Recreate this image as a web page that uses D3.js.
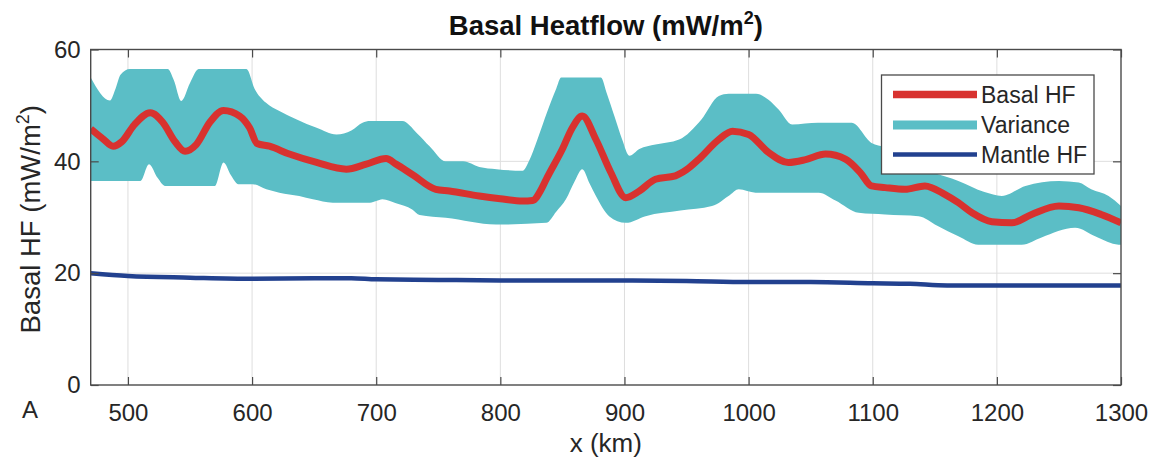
<!DOCTYPE html>
<html>
<head>
<meta charset="utf-8">
<script src="https://cdn.jsdelivr.net/npm/d3@7"></script>
<style>
  html, body { margin: 0; padding: 0; background: #fff; }
  svg { display: block; font-family: "Liberation Sans", Arial, Helvetica, sans-serif; }
</style>
</head>
<body>
<svg id="chart" width="1159" height="464"></svg>
<script>
// ---------------- data ----------------
const xTicks = [500, 600, 700, 800, 900, 1000, 1100, 1200, 1300];
const yTicks = [0, 20, 40, 60];

// Basal HF (red): [x km, mW/m2]
const basalHF = [
  [470,45.8],[480,44.0],[488,42.7],[495,43.5],[505,46.5],[518,48.7],[528,47.0],[538,43.5],
  [546,41.8],[555,43.0],[566,47.0],[577,49.1],[590,48.1],[598,46.0],[604,43.2],[614,42.7],
  [630,41.3],[652,39.8],[676,38.6],[692,39.5],[708,40.5],[716,39.5],[730,37.5],[748,35.0],
  [759,34.7],[783,33.8],[800,33.3],[818,32.9],[826,33.0],[833,35.0],[837,36.8],[850,42.2],
  [858,46.0],[866,48.1],[877,43.9],[889,38.0],[901,33.5],[912,34.7],[925,36.8],[941,37.4],
  [950,38.5],[960,40.4],[976,43.9],[987,45.4],[1000,44.8],[1016,41.6],[1032,39.8],[1046,40.3],
  [1062,41.3],[1078,40.4],[1090,38.0],[1099,35.6],[1110,35.3],[1126,35.0],[1142,35.6],[1158,34.1],
  [1169,32.6],[1180,30.8],[1196,29.2],[1212,29.0],[1228,30.5],[1250,32.0],[1266,31.7],[1284,30.5],
  [1300,29.0]
];

// Variance band upper edge (cyan)
const varianceUpper = [
  [470,55.0],[485.5,50.9],[490,53.0],[494,55.5],[501.6,56.5],[532,56.5],[537,54.5],[543,50.8],
  [550,54.0],[557,56.5],[595.5,56.5],[602,53.0],[611,50.5],[622,49.0],[636,47.5],[652,46.0],
  [668,44.8],[680,45.5],[689,46.9],[695,47.2],[721,47.2],[733,45.0],[743,42.7],[756,40.0],
  [770,40.0],[783,39.0],[797,38.6],[818,38.3],[823,40.0],[830,44.0],[838,49.0],[845,53.0],
  [849,55.0],[881,55.0],[886,52.0],[892,48.0],[898,44.0],[904,41.0],[912,42.2],[925,43.0],
  [944,43.9],[962,47.5],[976,51.7],[984,52.1],[1006,52.1],[1016,51.0],[1024,49.3],[1035,46.6],
  [1056,46.9],[1083,46.9],[1099,43.3],[1110,42.5],[1129,39.5],[1148,38.0],[1169,36.5],[1190,34.5],
  [1204,33.8],[1223,35.6],[1250,36.5],[1266,36.2],[1276,35.0],[1290,33.8],[1300,32.0]
];

// Variance band lower edge (cyan)
const varianceLower = [
  [470,36.5],[510,36.5],[517,39.5],[524,37.0],[530,35.6],[570,35.6],[577,39.8],[583,37.5],
  [589,35.9],[600.5,35.9],[611.5,35.0],[622,34.4],[638,33.8],[649,33.2],[665,32.6],[695,32.6],
  [700,32.9],[705,33.2],[716,32.5],[729,31.4],[735,30.4],[756,29.9],[796.5,28.7],[837,29.0],
  [845,31.0],[852.8,33.2],[860,36.5],[866,38.6],[872,36.0],[877,33.8],[887.6,30.2],[901,29.0],
  [917,30.2],[945,31.2],[970.5,32.0],[985,34.0],[992,35.0],[1005.6,34.4],[1056.5,34.4],[1070,33.0],
  [1088.7,30.8],[1110,30.5],[1137,30.2],[1152,28.5],[1169,26.6],[1185,25.1],[1220,25.1],[1236,26.4],
  [1263,28.1],[1280,26.5],[1298,25.1],[1300,25.1]
];

// Mantle HF (blue)
const mantleHF = [
  [470,20.0],[500,19.5],[550,19.2],[600,19.0],[650,19.1],[680,19.1],[700,18.9],[750,18.8],
  [800,18.7],[900,18.7],[950,18.6],[1000,18.4],[1050,18.4],[1100,18.2],[1130,18.1],[1160,17.8],
  [1200,17.8],[1300,17.8]
];

const legendLabels = ["Basal HF", "Variance", "Mantle HF"];
const colors = { basal: "#d8322f", variance: "#5bbec6", mantle: "#22418f" };

// ---------------- layout ----------------
const L = 90.7, R = 1121, T = 49.5, B = 385;
const svg = d3.select("#chart");
const x = d3.scaleLinear().domain([470, 1300]).range([L, R]);
const y = d3.scaleLinear().domain([0, 60]).range([B, T]);
const textColor = "#262626";
const axisColor = "#4a4a4a";
const tickFont = 24;

svg.append("defs").append("clipPath").attr("id", "plotclip")
  .append("rect").attr("x", L).attr("y", T).attr("width", R - L).attr("height", B - T);

// grid
const grid = svg.append("g");
grid.selectAll(".gx").data(xTicks.filter(d => d < 1300)).join("line")
  .attr("x1", d => x(d)).attr("x2", d => x(d)).attr("y1", T).attr("y2", B)
  .attr("stroke", "#dedede").attr("stroke-width", 1);
grid.selectAll(".gy").data(yTicks.filter(d => d > 0 && d < 60)).join("line")
  .attr("x1", L).attr("x2", R).attr("y1", d => y(d)).attr("y2", d => y(d))
  .attr("stroke", "#dedede").attr("stroke-width", 1);

// series
const smooth = d3.line().x(d => x(d[0])).y(d => y(d[1])).curve(d3.curveMonotoneX);
const plot = svg.append("g").attr("clip-path", "url(#plotclip)");

const upperPath = smooth(varianceUpper);
const lowerPath = smooth(varianceLower.slice().reverse());
plot.append("path").attr("d", upperPath + "L" + lowerPath.slice(1) + "Z")
  .attr("fill", colors.variance).attr("stroke", "none");

plot.append("path").datum(mantleHF).attr("d", smooth)
  .attr("fill", "none").attr("stroke", colors.mantle).attr("stroke-width", 4.5)
  .attr("stroke-linejoin", "round");

plot.append("path").datum(basalHF).attr("d", smooth)
  .attr("fill", "none").attr("stroke", colors.basal).attr("stroke-width", 7)
  .attr("stroke-linejoin", "round").attr("stroke-linecap", "butt");

// axes (ticks inside, MATLAB style)
function styleAxis(g) {
  g.select(".domain").remove();
  g.selectAll(".tick line").attr("stroke", axisColor).attr("stroke-width", 1.2);
  g.selectAll(".tick text").attr("fill", textColor).attr("font-size", tickFont)
    .attr("font-family", "Liberation Sans, Arial, sans-serif");
}
svg.append("g").attr("transform", `translate(0,${B})`)
  .call(d3.axisBottom(x).tickValues(xTicks).tickSize(-8).tickPadding(19).tickFormat(d3.format("d")))
  .call(styleAxis);
svg.append("g").attr("transform", `translate(0,${T})`)
  .call(d3.axisTop(x).tickValues(xTicks).tickSize(-8).tickFormat(""))
  .call(styleAxis);
svg.append("g").attr("transform", `translate(${L},0)`)
  .call(d3.axisLeft(y).tickValues(yTicks).tickSize(-8).tickPadding(10).tickFormat(d3.format("d")))
  .call(styleAxis);
svg.append("g").attr("transform", `translate(${R},0)`)
  .call(d3.axisRight(y).tickValues(yTicks).tickSize(-8).tickFormat(""))
  .call(styleAxis);

// box
svg.append("rect").attr("x", L).attr("y", T).attr("width", R - L).attr("height", B - T)
  .attr("fill", "none").attr("stroke", axisColor).attr("stroke-width", 1.4);

// title
const title = svg.append("text").attr("x", (L + R) / 2).attr("y", 35)
  .attr("text-anchor", "middle").attr("font-size", 27.5).attr("font-weight", "bold").attr("fill", "#111");
title.append("tspan").text("Basal Heatflow (mW/m");
title.append("tspan").attr("font-size", 18).attr("dy", -11).text("2");
title.append("tspan").attr("dy", 11).text(")");

// x label
svg.append("text").attr("x", (L + R) / 2).attr("y", 452).attr("text-anchor", "middle")
  .attr("font-size", 26).attr("fill", textColor).text("x (km)");

// y label
const yl = svg.append("text").attr("transform", `translate(40,${(T + B) / 2 + 2}) rotate(-90)`)
  .attr("text-anchor", "middle").attr("font-size", 27.5).attr("fill", textColor);
yl.append("tspan").text("Basal HF (mW/m");
yl.append("tspan").attr("font-size", 18).attr("dy", -11).text("2");
yl.append("tspan").attr("dy", 11).text(")");

// panel letter
svg.append("text").attr("x", 30).attr("y", 418).attr("text-anchor", "middle")
  .attr("font-size", 24).attr("fill", textColor).text("A");

// legend
const lg = svg.append("g");
lg.append("rect").attr("x", 881.5).attr("y", 75).attr("width", 212.5).attr("height", 99)
  .attr("fill", "#fff").attr("stroke", axisColor).attr("stroke-width", 1.3);
const legendItems = [
  { label: legendLabels[0], color: colors.basal, w: 7.5 },
  { label: legendLabels[1], color: colors.variance, w: 9 },
  { label: legendLabels[2], color: colors.mantle, w: 4.5 }
];
const rowY = [94.5, 125, 154.5];
legendItems.forEach((d, i) => {
  lg.append("line").attr("x1", 893).attr("x2", 977).attr("y1", rowY[i]).attr("y2", rowY[i])
    .attr("stroke", d.color).attr("stroke-width", d.w);
  lg.append("text").attr("x", 981).attr("y", rowY[i]).attr("dy", "0.35em")
    .attr("font-size", 23).attr("fill", textColor).text(d.label);
});
</script>
</body>
</html>
